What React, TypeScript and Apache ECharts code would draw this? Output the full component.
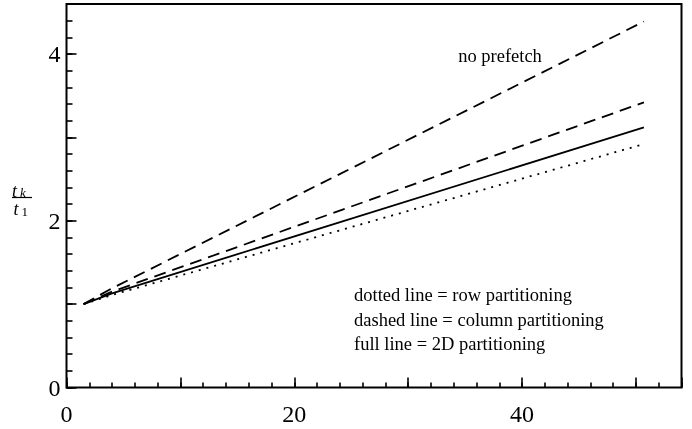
import React, { useEffect, useRef } from "react";
import * as echarts from "echarts";

const xValues = [1.5, 4, 50.7];
const noPrefetch = [1.0, 1.19, 4.39];
const columnPart = [1.0, 1.15, 3.42];
const fullPart2D = [1.0, 1.13, 3.12];
const rowPart = [1.0, 1.11, 2.92];

const xLabels = [0, 20, 40];
const yLabels = [0, 2, 4];

const legendLines = [
  "dotted line = row partitioning",
  "dashed line = column partitioning",
  "full line = 2D partitioning",
];

const FONT = "'Liberation Serif', 'Times New Roman', serif";

function pairs(ys: number[]) {
  return xValues.map((x, i) => [x, ys[i]]);
}

export default function App() {
  const ref = useRef<HTMLDivElement>(null);
  useEffect(() => {
    if (!ref.current) return;
    const chart = echarts.init(ref.current, undefined, { renderer: "svg" });
    const tickStyle = { color: "#000", width: 1.6 };
    const lineBase = { color: "#000", width: 1.8 };
    const xCommon = { type: "value", min: 0, max: 54, position: "bottom", gridIndex: 0, splitLine: { show: false }, axisLine: { show: false } };
    const yCommon = { type: "value", min: 0, max: 4.6, position: "left", gridIndex: 0, splitLine: { show: false }, axisLine: { show: false } };
    const option: any = {
      animation: false,
      grid: { left: 66.5, right: 10.5, top: 4, bottom: 41.5, show: true, borderColor: "#000", borderWidth: 2, backgroundColor: "transparent" },
      xAxis: [
        { ...xCommon, interval: 2, axisTick: { inside: true, length: 5, lineStyle: tickStyle }, axisLabel: { show: false } },
        {
          ...xCommon, interval: 10,
          axisTick: { inside: true, length: 10, lineStyle: tickStyle },
          axisLabel: {
            margin: 14, color: "#000", fontFamily: FONT, fontSize: 24,
            formatter: (v: number) => (xLabels.includes(v) ? String(v) : ""),
          },
        },
      ],
      yAxis: [
        { ...yCommon, interval: 0.2, axisTick: { inside: true, length: 6, lineStyle: tickStyle }, axisLabel: { show: false } },
        {
          ...yCommon, interval: 1,
          axisTick: { inside: true, length: 10, lineStyle: tickStyle },
          axisLabel: {
            margin: 6, color: "#000", fontFamily: FONT, fontSize: 24,
            formatter: (v: number) => (yLabels.includes(v) ? String(v) : ""),
          },
        },
      ],
      series: [
        { name: "no prefetch", type: "line", data: pairs(noPrefetch), showSymbol: false, lineStyle: { ...lineBase, type: [12, 7] } },
        { name: "column partitioning", type: "line", data: pairs(columnPart), showSymbol: false, lineStyle: { ...lineBase, type: [12, 7] } },
        { name: "2D partitioning", type: "line", data: pairs(fullPart2D), showSymbol: false, lineStyle: { ...lineBase } },
        { name: "row partitioning", type: "line", data: pairs(rowPart), showSymbol: false, lineStyle: { ...lineBase, type: [2, 6] } },
      ],
      graphic: [
        { type: "text", x: 500, y: 56, style: { text: "no prefetch", fill: "#000", font: `18.5px ${FONT}`, textAlign: "center", textVerticalAlign: "middle" } },
        ...legendLines.map((t, i) => ({
          type: "text", x: 354, y: 295 + i * 24.5,
          style: { text: t, fill: "#000", font: `18.5px ${FONT}`, textAlign: "left", textVerticalAlign: "middle" },
        })),
        { type: "text", x: 12, y: 190.5, style: { text: "t", fill: "#000", font: `italic 18px ${FONT}`, textAlign: "left", textVerticalAlign: "middle" } },
        { type: "text", x: 20, y: 192.5, style: { text: "k", fill: "#000", font: `italic 13px ${FONT}`, textAlign: "left", textVerticalAlign: "middle" } },
        { type: "line", shape: { x1: 12, y1: 197.5, x2: 32, y2: 197.5 }, style: { stroke: "#000", lineWidth: 1.2 } },
        { type: "text", x: 13.5, y: 208.5, style: { text: "t", fill: "#000", font: `italic 18px ${FONT}`, textAlign: "left", textVerticalAlign: "middle" } },
        { type: "text", x: 21.5, y: 211, style: { text: "1", fill: "#000", font: `13px ${FONT}`, textAlign: "left", textVerticalAlign: "middle" } },
      ],
    };
    chart.setOption(option);
    return () => chart.dispose();
  }, []);
  return <div ref={ref} style={{ position: "fixed", left: 0, top: 0, width: 692, height: 429 }} />;
}
